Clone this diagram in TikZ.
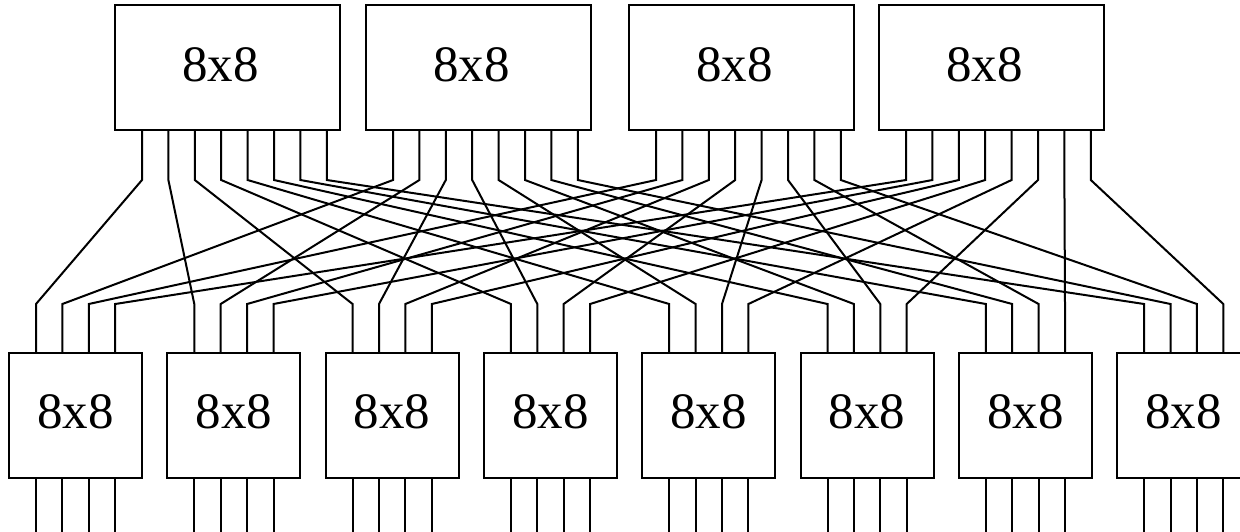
\documentclass[tikz,border=0pt]{standalone}
\usepackage{fontspec}
\setmainfont{Liberation Serif}
\usetikzlibrary{calc}
\begin{document}
\begin{tikzpicture}[x=1pt,y=-1pt,
  wire/.style={line width=2pt, line join=miter},
  topbox/.style={draw, line width=2pt, minimum width=225pt, minimum height=125pt, inner sep=0pt, outer sep=0pt, anchor=north west},
  botbox/.style={draw, line width=2pt, minimum width=133pt, minimum height=125pt, inner sep=0pt, outer sep=0pt, anchor=north west},
  lbl/.style={font=\fontsize{51}{51}\selectfont, inner sep=0pt}]
\useasboundingbox (0,0) rectangle (1240,531);
\clip (0,0) rectangle (1240,531);
% top switches
\foreach \j/\lx in {1/115,2/366,3/629,4/879} {
  \node[topbox] (T\j) at (\lx,5) {};
  \node[lbl] (TL\j) at (\lx+105.5,65) {8x8};
  \foreach \k in {1,...,8}
    \coordinate (t\j-\k) at (\lx+27+26.4*\k-26.4,130);
}
% bottom switches
\foreach \i in {1,...,8} {
  \pgfmathsetmacro\lx{9+158.3*(\i-1)}
  \node[botbox] (B\i) at (\lx,353) {};
  \node[lbl] (BL\i) at (\lx+66.5,411.5) {8x8};
  \foreach \m in {1,...,4} {
    \coordinate (b\i-\m) at (\lx+27+26.4*\m-26.4,353);
    \coordinate (o\i-\m) at (\lx+27+26.4*\m-26.4,478);
    \coordinate (e\i-\m) at (\lx+27+26.4*\m-26.4,540);
    \draw[wire] (o\i-\m) -- (e\i-\m);
  }
}
% interconnection
\foreach \j in {1,...,4}
  \foreach \k in {1,...,8}
    \draw[wire] (t\j-\k) -- ++(0,50) -- ($(b\k-\j)+(0,-49)$) -- (b\k-\j);
\end{tikzpicture}
\end{document}
